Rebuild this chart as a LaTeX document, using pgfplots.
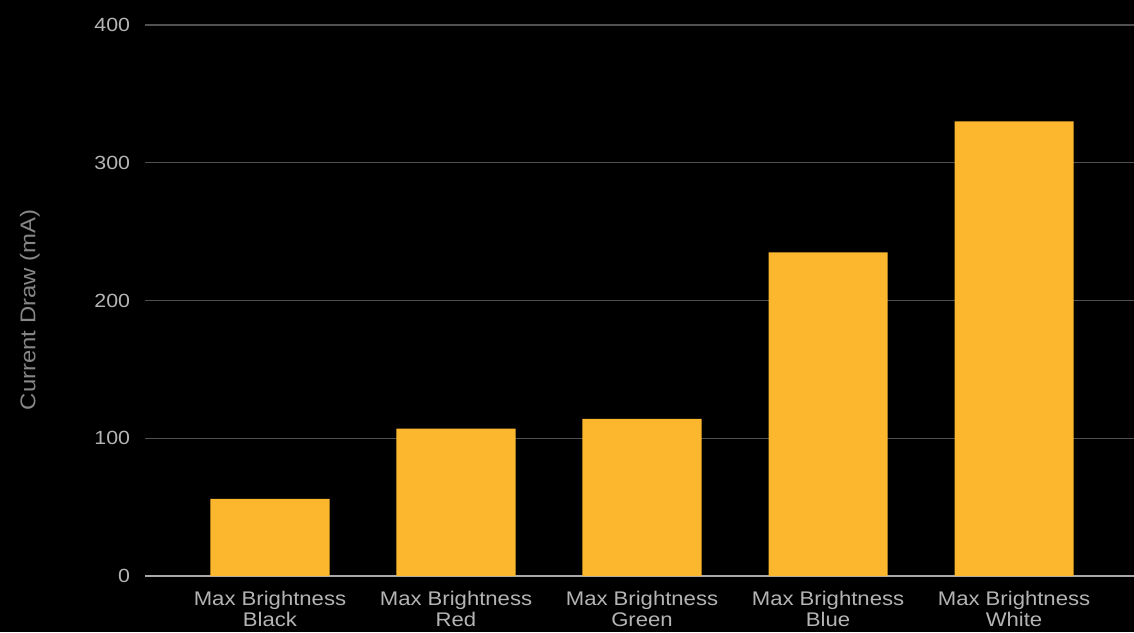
\documentclass[border=0pt]{standalone}
\usepackage{pgfplots}
\pgfplotsset{compat=1.18}
\usepackage{fontspec}
\setmainfont{Liberation Sans}[FakeStretch=1.12]
\definecolor{barc}{RGB}{253,183,47}
\definecolor{gridc}{RGB}{80,80,80}
\definecolor{zeroc}{RGB}{170,170,170}
\definecolor{tickc}{RGB}{180,180,180}
\definecolor{labc}{RGB}{135,135,135}
\begin{document}
\begin{tikzpicture}
% 1px = 0.75pt; axis box 989x551 px, page 1134x632 px
\path[use as bounding box] (-108.75pt,-42pt) rectangle (741.75pt,432pt);
\fill[black] (-108.75pt,-42pt) rectangle (741.75pt,432pt);
\begin{axis}[
    scale only axis,
    width=741.75pt, height=413.25pt,
    xmin=-0.672, xmax=4.645,
    ymin=0, ymax=400,
    axis line style={draw=none},
    major tick length=0pt,
    ytick={100,200,300,400},
    extra y ticks={0},
    extra y tick style={grid style={zeroc, line width=1.1pt}},
    ymajorgrids,
    grid style={gridc, line width=0.8pt},
    xtick=data,
    xticklabels={{Max Brightness\\Black},{Max Brightness\\Red},{Max Brightness\\Green},{Max Brightness\\Blue},{Max Brightness\\White}},
    xticklabel style={align=center, text=tickc, font=\fontsize{14.8}{16.2}\selectfont, inner sep=0pt, yshift=-11pt},
    yticklabel style={text=tickc, font=\fontsize{14.3}{16}\selectfont, inner sep=0pt, xshift=-11pt},
    /pgf/number format/assume math mode=true,
    ylabel={Current Draw (mA)},
    ylabel style={text=labc, font=\fontsize{16}{18}\selectfont, at={(axis description cs:-0.1163,0.483)}, anchor=center},
    ybar, bar width=0.64,
]
\addplot[fill=barc, draw=none] coordinates {(0,56) (1,107) (2,114) (3,235) (4,330)};
\end{axis}
\end{tikzpicture}
\end{document}
